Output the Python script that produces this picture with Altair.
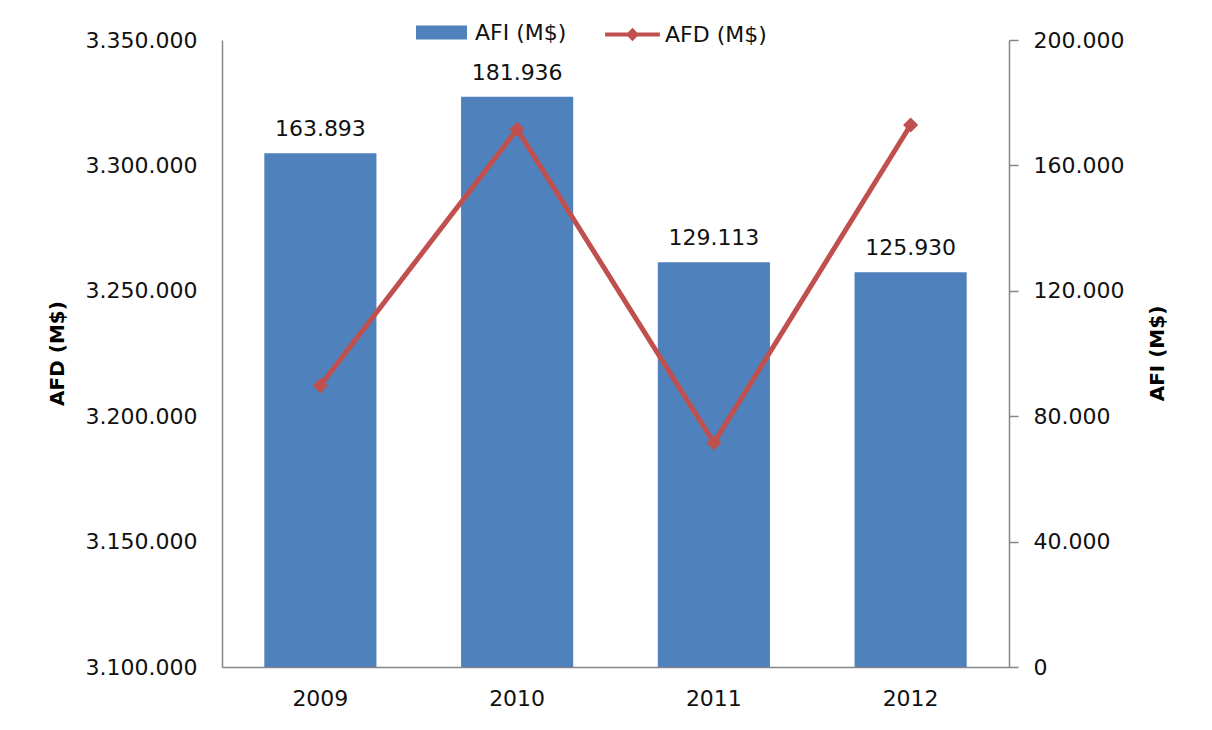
import altair as alt
import pandas as pd

years = ["2009", "2010", "2011", "2012"]
afi = [163893, 181936, 129113, 125930]
afd = [3212200, 3314400, 3189400, 3316100]
afi_name = "AFI (M$)"
afd_name = "AFD (M$)"
left_ticks = [3100000, 3150000, 3200000, 3250000, 3300000, 3350000]
right_ticks = [0, 40000, 80000, 120000, 160000, 200000]

df = pd.DataFrame({
    "year": years,
    "afi": afi,
    "afd": afd,
    "afi_s": [afi_name] * len(years),
    "afd_s": [afd_name] * len(years),
})

FONT = "DejaVu Sans"
FS = 22
W, H = 787, 627
dot_fmt = "replace(format(datum.value, ','), regexp(',', 'g'), '.')"

x = alt.X(
    "year:N",
    title=None,
    scale=alt.Scale(paddingInner=0.43, paddingOuter=0.215),
    axis=alt.Axis(labelAngle=0, ticks=False, grid=False, domainColor="#868686", domainWidth=1.5,
                  labelFontSize=FS, labelPadding=21, labelColor="#111111", labelFont=FONT),
)

base = alt.Chart(df).encode(x=x)

bar_base = base.encode(
    y=alt.Y("afi:Q", title="AFI (M$)",
            scale=alt.Scale(domain=[0, 200000], nice=False, zero=True),
            axis=alt.Axis(orient="right", values=right_ticks, labelExpr=dot_fmt,
                          grid=False, tickSize=9, tickColor="#868686", tickWidth=1.5,
                          domainColor="#868686", domainWidth=1.5,
                          labelFontSize=FS, labelPadding=15, labelColor="#111111", labelFont=FONT,
                          titleFontSize=20, titleFont=FONT, titleFontWeight="bold", titleColor="#000000",
                          titleAngle=270, titleX=148, titleY=313, titleAlign="center",
                          titleBaseline="middle")),
)

bars = bar_base.mark_bar(color="#4F81BD").encode(
    color=alt.Color("afi_s:N", scale=alt.Scale(range=["#4F81BD"]),
                    legend=alt.Legend(title=None, orient="none", legendX=194, legendY=-33,
                                      symbolType="M-1,-0.27L1,-0.27L1,0.27L-1,0.27Z",
                                      symbolSize=2600, symbolStrokeWidth=0,
                                      labelFontSize=FS, labelFont=FONT, labelColor="#111111",
                                      labelOffset=8)),
)

labels = bar_base.transform_calculate(
    lab="replace(format(datum.afi, ','), regexp(',', 'g'), '.')"
).mark_text(baseline="middle", dy=-24, fontSize=FS, font=FONT, color="#111111").encode(
    text="lab:N",
)

bar_layer = alt.layer(bars, labels)

line = base.mark_line(
    color="#C0504D", strokeWidth=5,
    point=alt.OverlayMarkDef(shape="diamond", size=230, filled=True, color="#C0504D"),
).encode(
    y=alt.Y("afd:Q", title="AFD (M$)",
            scale=alt.Scale(domain=[3100000, 3350000], nice=False, zero=False),
            axis=alt.Axis(orient="left", values=left_ticks, labelExpr=dot_fmt,
                          grid=False, ticks=False,
                          domainColor="#868686", domainWidth=1.5,
                          labelFontSize=FS, labelPadding=25, labelColor="#111111", labelFont=FONT,
                          titleFontSize=20, titleFont=FONT, titleFontWeight="bold", titleColor="#000000",
                          titleAngle=270, titleX=-165, titleY=313, titleAlign="center",
                          titleBaseline="middle")),
    color=alt.Color("afd_s:N", scale=alt.Scale(range=["#C0504D"]),
                    legend=alt.Legend(title=None, orient="none", legendX=383, legendY=-33,
                                      symbolType="M-1,-0.075L-0.17,-0.075L0,-0.25L0.17,-0.075L1,-0.075L1,0.075L0.17,0.075L0,0.25L-0.17,0.075L-1,0.075Z",
                                      symbolSize=3000, symbolStrokeWidth=0,
                                      labelFontSize=FS, labelFont=FONT, labelColor="#111111",
                                      labelOffset=5)),
)

chart = alt.layer(bar_layer, line).resolve_scale(
    y="independent", color="independent"
).resolve_legend(color="independent").properties(
    width=W, height=H,
    autosize=alt.AutoSizeParams(type="none"),
    padding={"left": 214, "top": 32, "right": 188, "bottom": 54},
).configure(background="white").configure_view(stroke=None).configure_axis(grid=False)

chart.save("out.html", embed_options={"renderer": "svg", "actions": False})
